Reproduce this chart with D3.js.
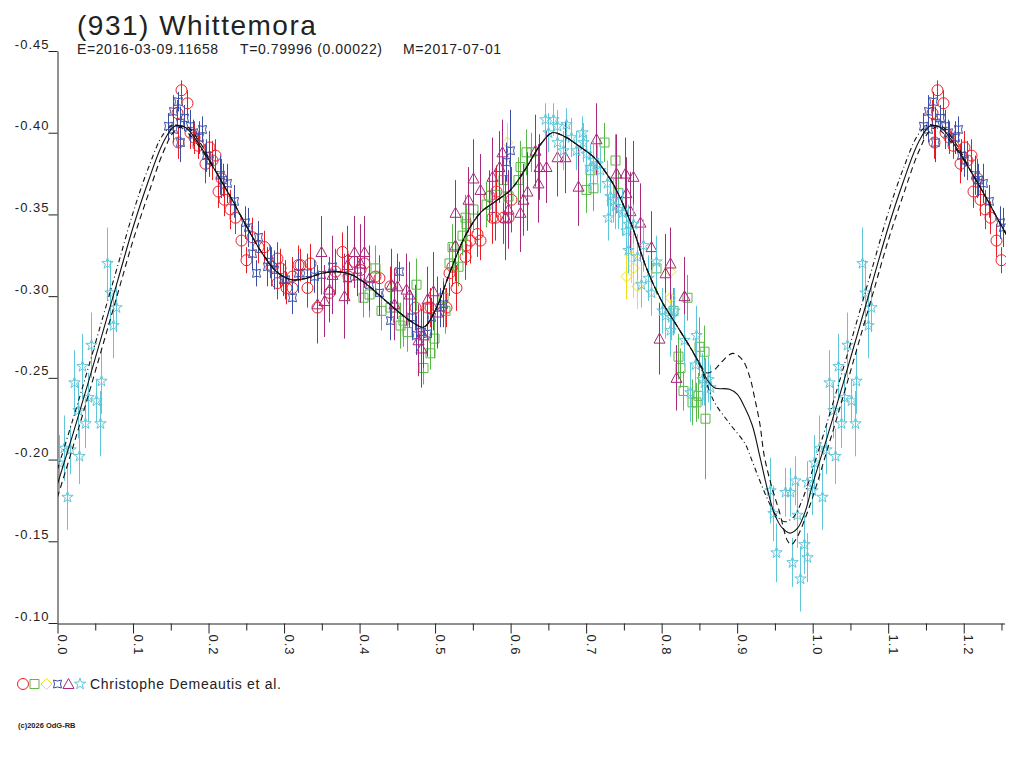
<!DOCTYPE html>
<html>
<head>
<meta charset="utf-8">
<script src="https://cdn.jsdelivr.net/npm/d3@7"></script>
<style>
  body { margin: 0; background: #fff; }
  text { font-family: "Liberation Sans", Arial, sans-serif; fill: #222; }
</style>
</head>
<body>
<svg id="chart"></svg>
<script>
// ---- data: [phase, magnitude, error] ----
const redCircles = [
  [0.158,-0.412,0.008],[0.160,-0.394,0.010],[0.164,-0.426,0.006],[0.172,-0.418,0.008],
  [0.175,-0.400,0.010],[0.181,-0.397,0.010],[0.186,-0.392,0.008],[0.195,-0.381,0.012],
  [0.201,-0.391,0.010],[0.205,-0.383,0.012],[0.209,-0.386,0.010],[0.212,-0.364,0.010],
  [0.217,-0.372,0.012],[0.221,-0.359,0.010],[0.228,-0.353,0.012],[0.235,-0.348,0.010],
  [0.243,-0.334,0.010],[0.249,-0.322,0.008],[0.258,-0.336,0.012],[0.266,-0.330,0.010],
  [0.274,-0.330,0.010],[0.283,-0.318,0.012],[0.290,-0.323,0.010],[0.294,-0.317,0.012],
  [0.290,-0.308,0.010],[0.303,-0.305,0.010],[0.310,-0.312,0.012],[0.311,-0.305,0.010],
  [0.318,-0.319,0.012],[0.321,-0.319,0.010],[0.330,-0.305,0.012],[0.334,-0.320,0.012],
  [0.343,-0.293,0.012],[0.360,-0.302,0.012],[0.367,-0.315,0.014],[0.377,-0.327,0.012],
  [0.385,-0.312,0.014],[0.393,-0.321,0.014],[0.400,-0.316,0.012],[0.406,-0.320,0.014],
  [0.420,-0.312,0.012],[0.426,-0.311,0.014],[0.440,-0.306,0.012],[0.473,-0.293,0.014],
  [0.489,-0.293,0.012],[0.493,-0.293,0.012],[0.515,-0.293,0.012],[0.519,-0.314,0.014],
  [0.522,-0.318,0.012],[0.528,-0.305,0.014],[0.539,-0.324,0.014],[0.541,-0.331,0.012],
  [0.546,-0.334,0.014],[0.555,-0.338,0.014],[0.559,-0.334,0.012],[0.572,-0.361,0.016],
  [0.575,-0.348,0.016],[0.579,-0.348,0.014],[0.581,-0.364,0.016],[0.590,-0.348,0.016],
  [0.596,-0.348,0.018],[0.601,-0.359,0.020]
];
const greenSquares = [
  [0.404,-0.299,0.012],[0.413,-0.301,0.014],[0.420,-0.317,0.014],[0.429,-0.291,0.012],
  [0.440,-0.293,0.014],[0.446,-0.293,0.012],[0.454,-0.282,0.014],[0.457,-0.285,0.016],
  [0.463,-0.278,0.012],[0.475,-0.307,0.016],[0.484,-0.256,0.010],[0.493,-0.265,0.010],
  [0.499,-0.274,0.012],[0.510,-0.299,0.012],[0.513,-0.291,0.014],[0.519,-0.320,0.012],
  [0.522,-0.330,0.014],[0.530,-0.318,0.012],[0.535,-0.337,0.012],[0.539,-0.348,0.014],
  [0.541,-0.344,0.012],[0.550,-0.353,0.014],[0.568,-0.356,0.014],[0.579,-0.362,0.016],
  [0.590,-0.371,0.014],[0.596,-0.361,0.016],[0.610,-0.371,0.014],[0.612,-0.379,0.016],
  [0.621,-0.388,0.014],[0.627,-0.388,0.012],[0.700,-0.365,0.014],[0.705,-0.377,0.012],
  [0.709,-0.366,0.014],[0.724,-0.394,0.012],[0.738,-0.383,0.016],[0.742,-0.363,0.014],
  [0.793,-0.317,0.016],[0.815,-0.291,0.014],[0.821,-0.263,0.014],[0.824,-0.256,0.012],
  [0.828,-0.242,0.012],[0.833,-0.299,0.014],[0.840,-0.235,0.014],[0.845,-0.235,0.012],
  [0.848,-0.239,0.014],[0.850,-0.269,0.018],[0.856,-0.266,0.016],[0.858,-0.225,0.037]
];
const yellowDiamonds = [
  [0.595,-0.394,0.012],[0.753,-0.312,0.014],[0.760,-0.324,0.016],[0.762,-0.317,0.018],
  [0.768,-0.306,0.014],[0.811,-0.315,0.016],[0.811,-0.299,0.014]
];
const blueBoxes = [
  [0.146,-0.404,0.008],[0.153,-0.413,0.010],[0.153,-0.402,0.008],[0.159,-0.419,0.006],
  [0.162,-0.406,0.010],[0.162,-0.394,0.012],[0.168,-0.409,0.008],[0.175,-0.404,0.010],
  [0.179,-0.400,0.008],[0.188,-0.397,0.010],[0.192,-0.402,0.008],[0.197,-0.386,0.010],
  [0.201,-0.383,0.010],[0.215,-0.374,0.012],[0.219,-0.371,0.010],[0.225,-0.369,0.012],
  [0.234,-0.358,0.010],[0.248,-0.345,0.010],[0.252,-0.342,0.012],[0.258,-0.326,0.010],
  [0.263,-0.314,0.008],[0.265,-0.336,0.010],[0.278,-0.318,0.012],[0.281,-0.321,0.010],
  [0.287,-0.316,0.012],[0.298,-0.310,0.010],[0.301,-0.310,0.012],[0.311,-0.299,0.010],
  [0.318,-0.314,0.012],[0.330,-0.314,0.012],[0.340,-0.312,0.010],[0.349,-0.313,0.012],
  [0.364,-0.318,0.014],[0.383,-0.311,0.012],[0.396,-0.312,0.012],[0.413,-0.307,0.012],
  [0.426,-0.302,0.014],[0.440,-0.285,0.012],[0.452,-0.315,0.006],[0.469,-0.287,0.014],
  [0.475,-0.276,0.012],[0.482,-0.278,0.014],[0.489,-0.277,0.014],[0.495,-0.287,0.012],
  [0.506,-0.293,0.012],[0.510,-0.295,0.014],[0.594,-0.382,0.012],[0.599,-0.389,0.025]
];
const purpleTriangles = [
  [0.344,-0.295,0.024],[0.349,-0.327,0.022],[0.353,-0.297,0.022],[0.360,-0.304,0.020],
  [0.363,-0.313,0.024],[0.380,-0.300,0.026],[0.384,-0.319,0.024],[0.393,-0.327,0.022],
  [0.400,-0.320,0.024],[0.406,-0.327,0.022],[0.413,-0.311,0.020],[0.442,-0.307,0.022],
  [0.446,-0.295,0.022],[0.449,-0.306,0.020],[0.462,-0.304,0.022],[0.465,-0.301,0.020],
  [0.477,-0.273,0.022],[0.482,-0.268,0.024],[0.484,-0.276,0.020],[0.489,-0.298,0.020],
  [0.497,-0.303,0.024],[0.502,-0.290,0.022],[0.526,-0.331,0.022],[0.526,-0.351,0.020],
  [0.543,-0.359,0.020],[0.550,-0.372,0.024],[0.560,-0.365,0.022],[0.576,-0.373,0.024],
  [0.585,-0.379,0.022],[0.588,-0.388,0.020],[0.592,-0.348,0.026],[0.596,-0.353,0.024],
  [0.612,-0.351,0.024],[0.616,-0.359,0.022],[0.622,-0.364,0.024],[0.632,-0.389,0.022],
  [0.636,-0.369,0.024],[0.638,-0.379,0.020],[0.647,-0.379,0.022],[0.662,-0.385,0.024],
  [0.672,-0.385,0.022],[0.689,-0.367,0.024],[0.713,-0.396,0.022],[0.740,-0.375,0.024],
  [0.751,-0.375,0.022],[0.753,-0.363,0.022],[0.758,-0.352,0.024],[0.762,-0.373,0.022],
  [0.771,-0.345,0.024],[0.786,-0.330,0.022],[0.796,-0.274,0.022],[0.804,-0.314,0.024],
  [0.811,-0.320,0.022],[0.819,-0.250,0.020],[0.830,-0.300,0.024]
];
const cyanStars = [
  [0.002,-0.198,0.017],[0.008,-0.207,0.020],[0.012,-0.177,0.020],[0.017,-0.206,0.015],
  [0.022,-0.247,0.020],[0.027,-0.230,0.017],[0.029,-0.202,0.017],[0.033,-0.257,0.020],
  [0.037,-0.222,0.015],[0.041,-0.238,0.015],[0.045,-0.270,0.020],[0.051,-0.236,0.013],
  [0.056,-0.222,0.020],[0.058,-0.248,0.020],[0.065,-0.320,0.022],[0.069,-0.302,0.020],
  [0.073,-0.282,0.020],[0.077,-0.293,0.015],
  [0.645,-0.408,0.010],[0.649,-0.400,0.012],[0.656,-0.408,0.010],[0.661,-0.394,0.012],
  [0.662,-0.404,0.010],[0.669,-0.389,0.012],[0.674,-0.405,0.010],[0.680,-0.397,0.012],
  [0.687,-0.389,0.012],[0.694,-0.400,0.010],[0.696,-0.394,0.012],[0.700,-0.387,0.012],
  [0.705,-0.379,0.014],[0.709,-0.383,0.012],[0.715,-0.381,0.012],[0.718,-0.377,0.014],
  [0.727,-0.369,0.014],[0.729,-0.348,0.014],[0.731,-0.361,0.012],[0.735,-0.359,0.014],
  [0.738,-0.355,0.014],[0.742,-0.353,0.012],[0.747,-0.351,0.014],[0.753,-0.340,0.014],
  [0.755,-0.344,0.012],[0.755,-0.328,0.014],[0.762,-0.344,0.012],[0.768,-0.324,0.014],
  [0.773,-0.307,0.014],[0.775,-0.331,0.016],[0.782,-0.311,0.014],[0.786,-0.302,0.014],
  [0.793,-0.321,0.016],[0.800,-0.291,0.014],[0.804,-0.288,0.014],[0.811,-0.279,0.016],
  [0.813,-0.287,0.014],[0.817,-0.291,0.014],[0.830,-0.273,0.016],[0.837,-0.241,0.018],
  [0.844,-0.258,0.016],[0.846,-0.276,0.018],[0.853,-0.249,0.016],[0.856,-0.247,0.014],
  [0.861,-0.249,0.014],[0.864,-0.244,0.014],
  [0.944,-0.181,0.020],[0.947,-0.167,0.017],[0.952,-0.143,0.018],[0.963,-0.180,0.015],
  [0.970,-0.180,0.015],[0.973,-0.137,0.015],[0.976,-0.187,0.015],[0.979,-0.166,0.020],
  [0.983,-0.127,0.020],[0.988,-0.148,0.018],[0.992,-0.140,0.015],[0.993,-0.186,0.013],
  [0.999,-0.181,0.015]
];

// ---- fitted curves: [phase, magnitude] ----
const fitMid = [
  [0.00,-0.185],[0.02,-0.215],[0.04,-0.246],[0.06,-0.278],[0.08,-0.310],[0.10,-0.342],
  [0.12,-0.370],[0.14,-0.394],[0.155,-0.404],[0.17,-0.403],[0.19,-0.391],[0.21,-0.376],
  [0.23,-0.360],[0.25,-0.343],[0.27,-0.327],[0.29,-0.315],[0.31,-0.310],[0.33,-0.311],
  [0.35,-0.314],[0.37,-0.315],[0.39,-0.313],[0.41,-0.307],[0.43,-0.299],[0.45,-0.291],
  [0.47,-0.284],[0.485,-0.281],[0.50,-0.291],[0.52,-0.315],[0.54,-0.337],[0.56,-0.351],
  [0.58,-0.358],[0.60,-0.365],[0.62,-0.378],[0.64,-0.393],[0.655,-0.400],[0.67,-0.398],
  [0.69,-0.392],[0.71,-0.385],[0.73,-0.373],[0.74,-0.365],[0.76,-0.344],[0.78,-0.317],
  [0.80,-0.297],[0.82,-0.282],[0.84,-0.267],[0.85,-0.259],[0.86,-0.249],[0.87,-0.244],
  [0.89,-0.243],[0.90,-0.240],[0.91,-0.232],[0.92,-0.221],[0.93,-0.202],[0.94,-0.182],
  [0.95,-0.166],[0.96,-0.158],[0.97,-0.155],[0.98,-0.158],[0.99,-0.168],[1.00,-0.185]
];
const fitLow = [
  [0.00,-0.194],[0.02,-0.224],[0.04,-0.255],[0.06,-0.287],[0.08,-0.319],[0.10,-0.351],
  [0.12,-0.378],[0.14,-0.399],[0.155,-0.405],[0.17,-0.401],[0.19,-0.390],[0.21,-0.376],
  [0.23,-0.360],[0.25,-0.343],[0.27,-0.327],[0.29,-0.315],[0.31,-0.310],[0.33,-0.311],
  [0.35,-0.314],[0.37,-0.315],[0.39,-0.313],[0.41,-0.307],[0.43,-0.299],[0.45,-0.291],
  [0.47,-0.284],[0.485,-0.281],[0.50,-0.291],[0.52,-0.315],[0.54,-0.337],[0.56,-0.351],
  [0.58,-0.358],[0.60,-0.365],[0.62,-0.378],[0.64,-0.393],[0.655,-0.400],[0.67,-0.398],
  [0.69,-0.392],[0.71,-0.385],[0.73,-0.373],[0.74,-0.365],[0.76,-0.344],[0.78,-0.317],
  [0.80,-0.297],[0.82,-0.282],[0.84,-0.267],[0.85,-0.258],[0.86,-0.246],[0.87,-0.235],
  [0.89,-0.222],[0.91,-0.210],[0.92,-0.199],[0.93,-0.187],[0.94,-0.176],[0.95,-0.167],
  [0.963,-0.162],[0.975,-0.165],[0.985,-0.174],[0.993,-0.184],[1.00,-0.194]
];
const fitHigh = [
  [0.00,-0.177],[0.02,-0.207],[0.04,-0.238],[0.06,-0.270],[0.08,-0.302],[0.10,-0.334],
  [0.12,-0.362],[0.14,-0.388],[0.155,-0.401],[0.17,-0.404],[0.19,-0.393],[0.21,-0.376],
  [0.23,-0.360],[0.25,-0.343],[0.27,-0.327],[0.29,-0.315],[0.31,-0.310],[0.33,-0.311],
  [0.35,-0.314],[0.37,-0.315],[0.39,-0.313],[0.41,-0.307],[0.43,-0.299],[0.45,-0.291],
  [0.47,-0.284],[0.485,-0.281],[0.50,-0.291],[0.52,-0.315],[0.54,-0.337],[0.56,-0.351],
  [0.58,-0.358],[0.60,-0.365],[0.62,-0.378],[0.64,-0.393],[0.655,-0.400],[0.67,-0.398],
  [0.69,-0.392],[0.71,-0.385],[0.73,-0.373],[0.74,-0.365],[0.76,-0.344],[0.78,-0.317],
  [0.80,-0.297],[0.82,-0.282],[0.84,-0.267],[0.85,-0.259],[0.86,-0.253],[0.87,-0.255],
  [0.88,-0.260],[0.894,-0.265],[0.907,-0.261],[0.917,-0.250],[0.923,-0.238],[0.930,-0.222],
  [0.936,-0.202],[0.946,-0.183],[0.956,-0.168],[0.967,-0.150],[0.972,-0.148],[0.98,-0.153],
  [0.99,-0.164],[1.00,-0.177]
];

// ---- ticks ----
const yTicks = [-0.45, -0.40, -0.35, -0.30, -0.25, -0.20, -0.15, -0.10];
const xTicks = [0.0, 0.1, 0.2, 0.3, 0.4, 0.5, 0.6, 0.7, 0.8, 0.9, 1.0, 1.1, 1.2];
const xMinorTicks = [0.05, 0.15, 0.25, 0.35, 0.45, 0.55, 0.65, 0.75, 0.85, 0.95, 1.05, 1.15, 1.25];

const width = 1024, height = 768;
const phaseMax = 1.254;

const svg = d3.select("#chart")
    .attr("width", width)
    .attr("height", height);
svg.append("rect").attr("width", width).attr("height", height).attr("fill", "#fff");

const x = d3.scaleLinear().domain([0, phaseMax]).range([57.5, 1004.5]);
const y = d3.scaleLinear().domain([-0.45, -0.10]).range([51, 623]);

// clip for data area
svg.append("clipPath").attr("id", "plotclip")
    .append("rect").attr("x", 58).attr("y", 0).attr("width", 948).attr("height", 623);

// ---- title ----
svg.append("text").attr("x", 77).attr("y", 35)
    .style("font-size", "28px").style("letter-spacing", "1.5px")
    .text("(931) Whittemora");
const sub = [["E=2016-03-09.11658", 77], ["T=0.79996 (0.00022)", 240], ["M=2017-07-01", 403]];
svg.selectAll(".sub").data(sub).enter().append("text")
    .attr("x", d => d[1]).attr("y", 54)
    .style("font-size", "14px").style("letter-spacing", "0.6px")
    .text(d => d[0]);

// ---- axes ----
const gy = svg.append("g")
    .attr("transform", "translate(57.5,0)")
    .style("color", "#222")
    .call(d3.axisLeft(y).tickValues(yTicks).tickFormat(d => d.toFixed(2)).tickSize(9).tickSizeOuter(0));
gy.selectAll("text")
    .attr("x", -8).attr("dy", "-3px")
    .style("font-size", "13px").style("letter-spacing", "1px")
    .style("font-family", "Liberation Sans, Arial, sans-serif");

const gx = svg.append("g")
    .attr("transform", "translate(0,623.5)")
    .style("color", "#222")
    .call(d3.axisBottom(x).tickValues(xTicks).tickFormat(d => d.toFixed(1)).tickSize(10).tickSizeOuter(0));
gx.selectAll("text")
    .attr("transform", "rotate(90)")
    .attr("x", 11).attr("y", 0).attr("dy", "0")
    .style("text-anchor", "start")
    .style("font-size", "13px").style("letter-spacing", "1px")
    .style("font-family", "Liberation Sans, Arial, sans-serif");

svg.append("g")
    .attr("transform", "translate(0,623.5)")
    .style("color", "#222")
    .call(d3.axisBottom(x).tickValues(xMinorTicks).tickFormat("").tickSize(7).tickSizeOuter(0))
    .select(".domain").remove();

// ---- markers ----
const shapes = {
    circle: d3.symbol().type(d3.symbolCircle).size(95)(),
    square: d3.symbol().type(d3.symbolSquare).size(81)(),
    diamond: "M0,-5.5L5.5,0L0,5.5L-5.5,0Z",
    xbox: "M-4,-4Q0,-2 4,-4Q2,0 4,4Q0,2 -4,4Q-2,0 -4,-4Z",
    triangle: "M0,-5.5L5.5,4.5L-5.5,4.5Z",
    star: d3.symbol().type(d3.symbolStar).size(40)()
};

const series = [
    { data: redCircles, color: "#ec1c24", shape: "circle" },
    { data: greenSquares, color: "#58b947", shape: "square" },
    { data: yellowDiamonds, color: "#efe01c", shape: "diamond" },
    { data: blueBoxes, color: "#3a4ea6", shape: "xbox" },
    { data: purpleTriangles, color: "#a8287c", shape: "triangle" },
    { data: cyanStars, color: "#5ec8da", shape: "star" }
];

// repeat the first part of the cycle after phase 1
const wrapPoints = pts => pts.concat(pts.filter(d => d[0] + 1 <= phaseMax).map(d => [d[0] + 1, d[1], d[2]]));

const dataLayer = svg.append("g").attr("clip-path", "url(#plotclip)");

series.forEach(s => {
    const g = dataLayer.append("g").attr("stroke", s.color).attr("fill", "none");
    const pts = wrapPoints(s.data);
    g.selectAll("line")
        .data(pts)
        .enter()
        .append("line")
        .attr("x1", d => Math.round(x(d[0])) + 0.5)
        .attr("x2", d => Math.round(x(d[0])) + 0.5)
        .attr("y1", d => y(d[1] - d[2]))
        .attr("y2", d => y(d[1] + d[2]));
    g.selectAll("path")
        .data(pts)
        .enter()
        .append("path")
        .attr("d", shapes[s.shape])
        .attr("transform", d => "translate(" + (Math.round(x(d[0])) + 0.5) + "," + y(d[1]) + ")");
});

// ---- fitted curves ----
const wrapCurve = pts => pts.concat(pts.filter(d => d[0] > 0 && d[0] <= 0.27).map(d => [d[0] + 1, d[1]]));
const line = d3.line().x(d => x(d[0])).y(d => y(d[1])).curve(d3.curveCatmullRom);

const curves = [
    { data: fitLow, dash: "5,3,1,3" },
    { data: fitHigh, dash: "6,4" },
    { data: fitMid, dash: null }
];
curves.forEach(c => {
    dataLayer.append("path")
        .attr("d", line(wrapCurve(c.data)))
        .attr("fill", "none")
        .attr("stroke", "#111")
        .attr("stroke-width", 1.1)
        .attr("stroke-dasharray", c.dash);
});

// ---- legend ----
const legend = svg.append("g").attr("fill", "none");
const legendPos = [23, 34.5, 46.5, 57.5, 68.5, 80];
series.forEach((s, i) => {
    legend.append("path")
        .attr("d", shapes[s.shape])
        .attr("stroke", s.color)
        .attr("transform", "translate(" + legendPos[i] + ",684)");
});
svg.append("text").attr("x", 90).attr("y", 689)
    .style("font-size", "14px").style("letter-spacing", "0.7px")
    .text("Christophe Demeautis et al.");

svg.append("text").attr("x", 18).attr("y", 728)
    .style("font-size", "7.5px").style("font-weight", "bold")
    .text("(c)2026 OdG-RB");
</script>
</body>
</html>
